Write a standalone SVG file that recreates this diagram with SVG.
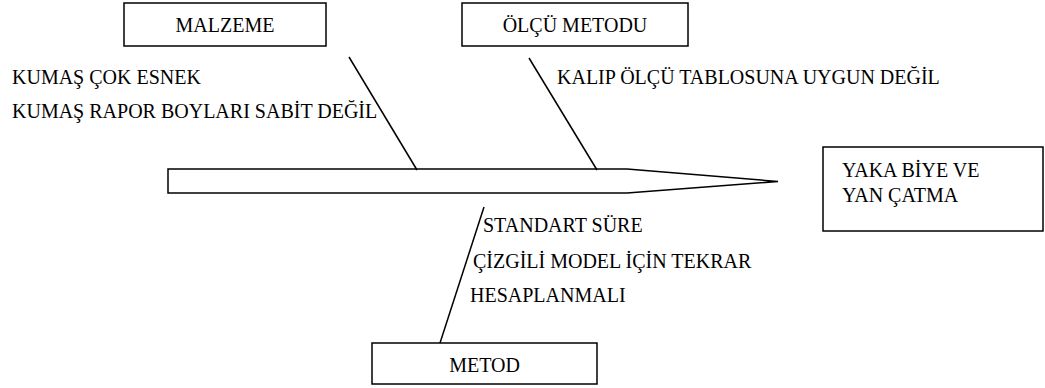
<svg xmlns="http://www.w3.org/2000/svg" width="1045" height="388" viewBox="0 0 1045 388">
  <style>
    .box { fill: #ffffff; stroke: #000000; stroke-width: 1.5; }
    .line { fill: none; stroke: #000000; stroke-width: 1.5; }
    .lbl { font-family: 'Liberation Serif', 'DejaVu Serif', serif; font-size: 20px; fill: #000000; }
    .mid { text-anchor: middle; }
  </style>
  <rect width="1045" height="388" fill="#ffffff"/>

  <!-- fish spine -->
  <g id="spine">
    <path class="line" d="M168,169 L627,169 L778,181.5 L627,193 L168,193 Z"/>
  </g>

  <!-- bones from each cause to the spine -->
  <g id="connectors">
    <line class="line" x1="349" y1="57" x2="417" y2="170"/>
    <line class="line" x1="529" y1="58" x2="597" y2="170"/>
    <line class="line" x1="484" y1="207" x2="440" y2="343"/>
  </g>

  <g id="malzeme" class="lbl" font-family="Liberation Serif, serif">
    <rect class="box" x="124" y="3" width="202" height="43"/>
    <text class="lbl mid" x="225" y="32">MALZEME</text>
    <text class="lbl" x="12" y="84">KUMAŞ ÇOK ESNEK</text>
    <text class="lbl" x="12" y="118">KUMAŞ RAPOR BOYLARI SABİT DEĞİL</text>
  </g>

  <g id="olcu-metodu" class="lbl" font-family="Liberation Serif, serif">
    <rect class="box" x="462" y="3" width="226" height="43"/>
    <text class="lbl mid" x="575" y="32">ÖLÇÜ METODU</text>
    <text class="lbl" x="557" y="84">KALIP ÖLÇÜ TABLOSUNA UYGUN DEĞİL</text>
  </g>

  <g id="metod" class="lbl" font-family="Liberation Serif, serif">
    <rect class="box" x="372" y="343" width="225" height="41"/>
    <text class="lbl mid" x="484.5" y="372">METOD</text>
    <text class="lbl" x="483" y="232">STANDART SÜRE</text>
    <text class="lbl" x="473" y="268">ÇİZGİLİ MODEL İÇİN TEKRAR</text>
    <text class="lbl" x="470" y="302">HESAPLANMALI</text>
  </g>

  <g id="yaka-biye" class="lbl" font-family="Liberation Serif, serif">
    <rect class="box" x="823" y="147" width="220" height="84"/>
    <text class="lbl" x="842" y="177">YAKA BİYE VE</text>
    <text class="lbl" x="842" y="202">YAN ÇATMA</text>
  </g>
</svg>
